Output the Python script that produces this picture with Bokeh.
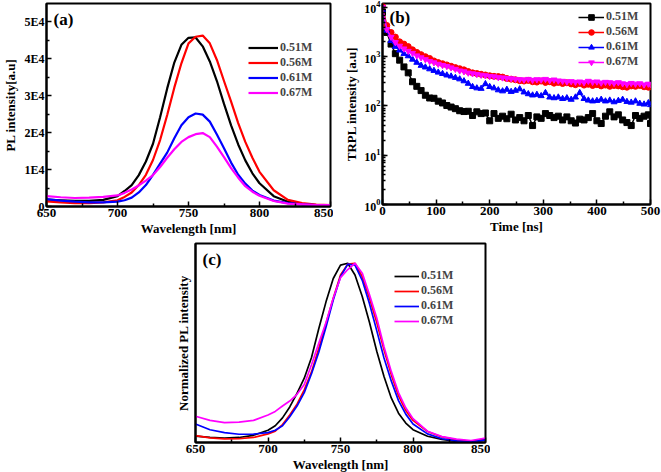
from bokeh.plotting import figure
from bokeh.layouts import column, row
from bokeh.models import Range1d, FixedTicker, Legend, LegendItem, Label, Spacer
from bokeh.embed import file_html
from bokeh.resources import INLINE

SERIF = "Liberation Serif"
series_labels = ["0.51M", "0.56M", "0.61M", "0.67M"]
series_colors = ["#000000", "#ff0000", "#0000ff", "#ff00ff"]

# ---------------- (a) PL spectra ----------------
wavelength = [650, 660, 670, 680, 690, 700, 705, 710, 715, 720, 725, 730, 735, 740, 745,
              750, 755, 760, 765, 770, 775, 780, 785, 790, 795, 800, 810, 820, 830, 840, 850]
pl_051 = [1900, 1700, 1500, 1500, 1800, 2800, 4200, 5800, 8500, 12200, 17000, 24200, 32000, 39000, 43800,
          45700, 45800, 43400, 39300, 34000, 27800, 22000, 16800, 12500, 9000, 6300, 2800, 1300, 600, 400, 400]
pl_056 = [1400, 1100, 900, 900, 1100, 1700, 2600, 3800, 5800, 8600, 12600, 18000, 24800, 32200, 38800,
          44200, 46000, 46300, 44200, 39700, 34000, 28400, 22600, 17500, 13200, 9400, 4400, 1800, 900, 500, 400]
pl_061 = [2000, 1600, 1300, 1100, 1100, 1300, 1700, 2400, 3800, 5800, 8600, 11600, 14600, 18500, 22000,
          24200, 25200, 24900, 23000, 19500, 15800, 11900, 8600, 6200, 4300, 3100, 1600, 900, 600, 400, 400]
pl_067 = [2800, 2500, 2300, 2400, 2600, 3000, 3700, 4600, 5700, 7000, 8500, 10700, 13200, 15500, 17500,
          18800, 19600, 19900, 18800, 16200, 13400, 10400, 7800, 5500, 4000, 2900, 1500, 800, 600, 400, 400]
pl_yticks = [0, 10000, 20000, 30000, 40000, 50000]
pl_ytick_labels = ["0", "1E4", "2E4", "3E4", "4E4", "5E4"]
wl_ticks = [650, 700, 750, 800, 850]

# ---------------- (b) TRPL decays ----------------
time_ns = [0, 8, 16, 24, 32, 40, 48, 56, 64, 72, 80, 88, 96, 104, 112, 120, 128, 136, 144, 152,
           160, 168, 176, 184, 192, 200, 208, 216, 224, 232, 240, 248, 256, 264, 272, 280, 288, 296,
           304, 312, 320, 328, 336, 344, 352, 360, 368, 376, 384, 392, 400, 408, 416, 424, 432, 440,
           448, 456, 464, 472, 480, 488, 496, 500]
tr_051 = [8000, 3100, 1800, 1150, 850, 620, 470, 310, 250, 205, 165, 145, 143, 125, 115, 102, 95, 88, 80, 77,
          78, 64, 76, 70, 72, 50, 70, 56, 62, 55, 68, 52, 58, 50, 64, 40, 60, 56,
          70, 64, 58, 62, 52, 60, 50, 45, 54, 52, 58, 70, 50, 44, 62, 76, 60, 66,
          52, 46, 40, 64, 56, 62, 66, 44]
tr_056 = [10500, 4300, 3100, 2500, 2000, 1800, 1600, 1380, 1220, 1100, 1000, 920, 820, 760, 720, 680, 640, 600, 570, 540,
          500, 470, 455, 440, 425, 410, 400, 395, 385, 360, 350, 340, 325, 320, 330, 310, 305, 320,
          300, 310, 290, 300, 285, 295, 280, 270, 285, 265, 275, 260, 270, 255, 265, 250, 260, 255,
          245, 240, 255, 250, 260, 245, 240, 245]
tr_061 = [9000, 3400, 2100, 1600, 1350, 1150, 1030, 880, 760, 660, 610, 560, 520, 480, 450, 420, 400, 375, 350, 320,
          285, 245, 230, 225, 280, 245, 230, 210, 200, 215, 195, 205, 220, 190, 175, 165, 170, 160,
          185, 150, 145, 150, 140, 145, 135, 150, 185, 140, 130, 125, 128, 135, 125, 130, 120, 128,
          135, 122, 118, 125, 112, 108, 115, 105]
tr_067 = [10000, 3600, 2500, 1950, 1650, 1450, 1300, 1180, 1050, 960, 880, 810, 760, 710, 670, 640, 600, 560, 520, 500,
          470, 455, 440, 425, 415, 400, 395, 380, 375, 365, 360, 350, 345, 340, 350, 335, 345, 340,
          350, 330, 340, 325, 320, 310, 315, 305, 310, 300, 320, 305, 310, 295, 305, 300, 290, 300,
          285, 275, 290, 280, 285, 270, 280, 275]
time_ticks = [0, 100, 200, 300, 400, 500]

# ---------------- (c) normalized PL ----------------
norm_051 = [0.032, 0.026, 0.022, 0.025, 0.037, 0.065, 0.09, 0.134, 0.195, 0.27, 0.355, 0.47, 0.63, 0.78, 0.91,
            0.985, 0.995, 0.93, 0.81, 0.665, 0.505, 0.364, 0.245, 0.16, 0.105, 0.068, 0.032, 0.014, 0.003, 0.0, 0.01]
norm_056 = [0.035, 0.023, 0.017, 0.018, 0.025, 0.045, 0.06, 0.097, 0.15, 0.21, 0.29, 0.39, 0.52, 0.66, 0.80,
            0.93, 0.99, 0.995, 0.92, 0.80, 0.665, 0.513, 0.375, 0.258, 0.175, 0.12, 0.058, 0.028, 0.012, 0.004, 0.016]
norm_061 = [0.10, 0.068, 0.052, 0.043, 0.044, 0.052, 0.065, 0.09, 0.14, 0.2, 0.275, 0.38, 0.50, 0.64, 0.79,
            0.92, 0.99, 0.985, 0.90, 0.77, 0.62, 0.467, 0.34, 0.23, 0.155, 0.10, 0.045, 0.018, 0.006, 0.0, 0.012]
norm_067 = [0.143, 0.12, 0.108, 0.11, 0.12, 0.15, 0.17, 0.2, 0.228, 0.265, 0.32, 0.43, 0.55, 0.665, 0.8,
            0.915, 0.96, 0.995, 0.94, 0.82, 0.69, 0.53, 0.393, 0.275, 0.19, 0.13, 0.06, 0.03, 0.016, 0.008, 0.022]


def style(p):
    p.outline_line_color = "black"
    p.outline_line_width = 2
    p.outline_line_alpha = 1
    p.xgrid.visible = False
    p.ygrid.visible = False
    p.background_fill_color = "white"
    p.border_fill_color = "white"
    for ax in p.axis:
        ax.axis_line_width = 2
        ax.major_tick_in = 5
        ax.major_tick_out = 0
        ax.minor_tick_in = 3
        ax.minor_tick_out = 0
        ax.major_tick_line_width = 1.5
        ax.minor_tick_line_width = 1.5
        ax.major_label_text_font = SERIF
        ax.major_label_text_font_style = "bold"
        ax.major_label_text_font_size = "13px"
        ax.major_label_text_color = "black"
        ax.axis_label_text_font = SERIF
        ax.axis_label_text_font_style = "bold"
        ax.axis_label_text_font_size = "13px"
        ax.axis_label_text_color = "black"
        ax.major_label_standoff = 2
        ax.axis_label_standoff = 1


def make_legend(items, loc, glyph_w, pitch):
    return Legend(items=items, location=loc, border_line_alpha=0, background_fill_alpha=0,
                  label_text_font=SERIF, label_text_font_style="bold", label_text_font_size="12px",
                  glyph_width=glyph_w, glyph_height=pitch, label_height=pitch, spacing=0, padding=0,
                  label_standoff=2, margin=0)


def panel_label(p, txt, frame_h):
    p.add_layout(Label(x=7, y=frame_h - 6, x_units="screen", y_units="screen", text=txt,
                       text_font=SERIF, text_font_style="bold", text_font_size="17px",
                       text_baseline="top", text_color="black"))


# ---- panel (a)
pa = figure(frame_width=284, frame_height=203, output_backend="svg", toolbar_location=None,
            x_range=Range1d(650, 850), y_range=Range1d(0, 55000),
            min_border_left=43, min_border_right=3, min_border_top=3, min_border_bottom=30)
style(pa)
pa.xaxis.ticker = FixedTicker(ticks=wl_ticks, minor_ticks=[675, 725, 775, 825])
pa.yaxis.ticker = FixedTicker(ticks=pl_yticks, minor_ticks=[5000, 15000, 25000, 35000, 45000])
pa.yaxis.major_label_overrides = dict(zip(pl_yticks, pl_ytick_labels))
pa.yaxis.major_label_text_font_size = "12px"
pa.yaxis.axis_label_standoff = 3
pa.xaxis.axis_label = "Wavelength [nm]"
pa.yaxis.axis_label = "PL intensity[a.u]"
items = []
for ys, lab, col in zip([pl_051, pl_056, pl_061, pl_067], series_labels, series_colors):
    r = pa.line(wavelength, ys, line_color=col, line_width=2.2)
    items.append(LegendItem(label=lab, renderers=[r]))
pa.add_layout(make_legend(items, (202, 106), 30, 15))
panel_label(pa, "(a)", 203)

# ---- panel (b)
pb = figure(width=331, height=236, output_backend="svg", toolbar_location=None,
            x_range=Range1d(0, 500), y_range=Range1d(1, 12000), y_axis_type="log",
            min_border_left=49, min_border_right=14, min_border_top=3, min_border_bottom=30)
style(pb)
pb.xaxis.ticker = FixedTicker(ticks=time_ticks, minor_ticks=[50, 150, 250, 350, 450])
pb.xaxis.axis_label = "Time [ns]"
pb.yaxis.axis_label = "TRPL intensity [a.u]"
pb.yaxis.major_label_text_font_size = "12px"
pb.yaxis.axis_label_standoff = 2
markers = ["square", "circle", "triangle", "inverted_triangle"]
items = []
for ys, lab, col, mk in zip([tr_051, tr_056, tr_061, tr_067], series_labels, series_colors, markers):
    rl = pb.line(time_ns, ys, line_color=col, line_width=1.5)
    rs = pb.scatter(time_ns, ys, marker=mk, size=6, fill_color=col, line_color=col)
    items.append(LegendItem(label=lab, renderers=[rl, rs]))
pb.add_layout(make_legend(items, (196, 135), 26, 14))
panel_label(pb, "(b)", 203)

# ---- panel (c)
pc = figure(frame_width=290, frame_height=199, output_backend="svg", toolbar_location=None,
            x_range=Range1d(650, 850), y_range=Range1d(-0.003, 1.105),
            min_border_left=21, min_border_right=5, min_border_top=5, min_border_bottom=30)
style(pc)
pc.xaxis.ticker = FixedTicker(ticks=wl_ticks, minor_ticks=[675, 725, 775, 825])
pc.yaxis.ticker = FixedTicker(ticks=[])
pc.xaxis.axis_label = "Wavelength [nm]"
pc.yaxis.axis_label = "Normalized PL intensity"
pc.yaxis.axis_label_standoff = 5
items = []
for ys, lab, col in zip([norm_051, norm_056, norm_061, norm_067], series_labels, series_colors):
    r = pc.line(wavelength, ys, line_color=col, line_width=1.7)
    items.append(LegendItem(label=lab, renderers=[r]))
pc.add_layout(make_legend(items, (199, 114), 25, 14))
panel_label(pc, "(c)", 199)

layout = column(row(pa, pb), row(Spacer(width=172, height=10), pc))

with open("out.html", "w") as f:
    f.write(file_html(layout, INLINE))
